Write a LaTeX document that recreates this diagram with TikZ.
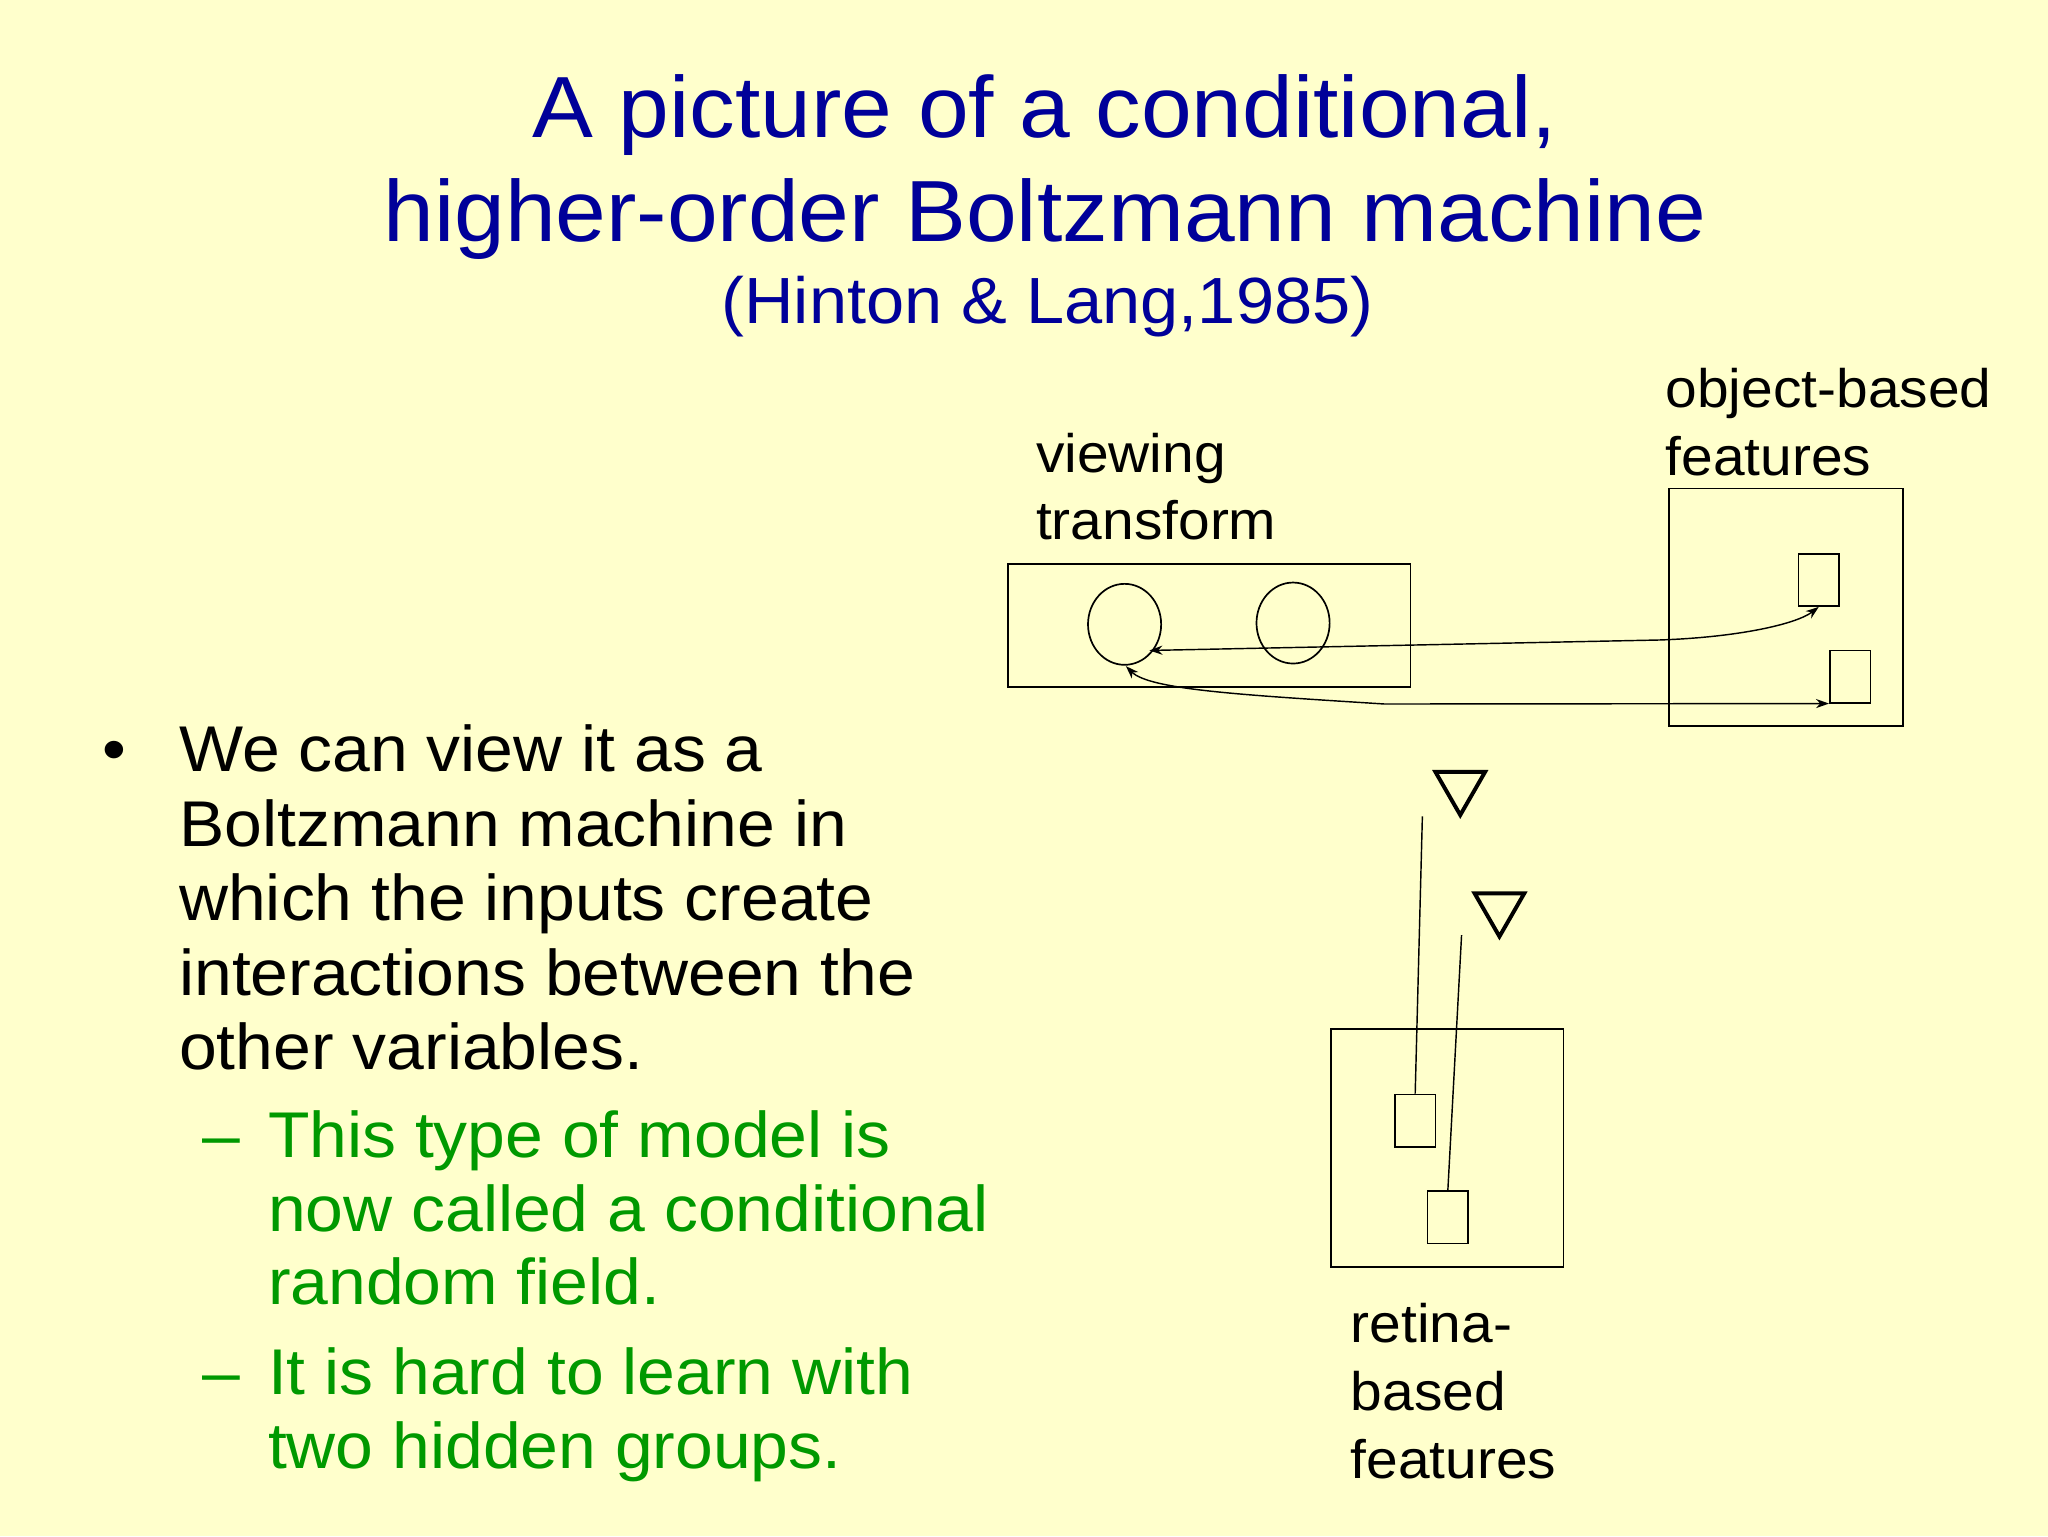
\documentclass[tikz,border=0pt]{standalone}
\usepackage{fontspec}
\setmainfont[FakeStretch=1.05]{Liberation Sans}
\usetikzlibrary{arrows.meta}
\definecolor{bg}{RGB}{255,255,204}
\definecolor{ttl}{RGB}{0,0,153}
\definecolor{grn}{RGB}{0,153,0}
\tikzset{
  txt/.style={anchor=base west,inner sep=0pt,font=\fontsize{49.5}{57}\selectfont},
  lbl/.style={anchor=base west,inner sep=0pt,font=\fontsize{41.5}{48}\selectfont},
  box/.style={draw,line width=1.3pt},
  conn/.style={line width=1.1pt,{Stealth[length=10pt,width=7pt]}-{Stealth[length=10pt,width=7pt]}},
  tri/.style={draw,line width=3pt}
}
\begin{document}
\begin{tikzpicture}[x=1pt,y=-1pt]
\fill[bg] (0,0) rectangle (1568,1176);
\useasboundingbox (0,0) rectangle (1568,1176);
% title
\node[anchor=base,inner sep=0pt,text=ttl,font=\fontsize{66.5}{78}\selectfont] (t1) at (800,105) {A picture of a conditional,};
\node[anchor=base,inner sep=0pt,text=ttl,font=\fontsize{66.5}{78}\selectfont] (t2) at (800,185) {higher-order Boltzmann machine};
\node[anchor=base,inner sep=0pt,text=ttl,font=\fontsize{50}{58}\selectfont] (t3) at (802,248) {(Hinton \& Lang,1985)};
% bullets
\node[txt] (b) at (78,591) {•};
\foreach \t [count=\i from 0] in {We can view it as a,Boltzmann machine in,which the inputs create,interactions between the,other variables.}
  \node[txt] (l\i) at (137,591+57*\i) {\t};
\node[txt,text=grn] (d1) at (155,886) {–};
\foreach \t [count=\i from 0] in {This type of model is,now called a conditional,random field.}
  \node[txt,text=grn] (g\i) at (205,886+56.5*\i) {\t};
\node[txt,text=grn] (d2) at (155,1068) {–};
\foreach \t [count=\i from 0] in {It is hard to learn with,two hidden groups.}
  \node[txt,text=grn] (h\i) at (205,1068+56*\i) {\t};
% labels
\node[lbl] (v1) at (793,362) {viewing};
\node[lbl] (v2) at (793,413) {transform};
\node[lbl] (o1) at (1275,312) {object-based};
\node[lbl] (o2) at (1275,364) {features};
\node[lbl] (r1) at (1034,1028) {retina-};
\node[lbl] (r2) at (1034,1080) {based};
\node[lbl] (r3) at (1034,1132) {features};
% boxes
\draw[box] (772,432) rectangle (1080,526);
\draw[box] (1278,374) rectangle (1457,556);
\draw[box] (1019,788) rectangle (1197,970);
\draw[box] (861,478) ellipse (28 and 31);
\draw[box] (990,477) ellipse (28 and 31);
\node[box,minimum width=31pt,minimum height=40pt,inner sep=0pt] (os1) at (1392.5,444) {};
\node[box,minimum width=31pt,minimum height=40pt,inner sep=0pt] (os2) at (1416.5,518) {};
\node[box,minimum width=31pt,minimum height=40pt,inner sep=0pt] (rs1) at (1083.5,858) {};
\node[box,minimum width=31pt,minimum height=40pt,inner sep=0pt] (rs2) at (1108.5,932) {};
\coordinate (c1) at (880,498);
\coordinate (c2) at (862,510);
% connectors
\draw[conn] (c1) -- (1270,490) .. controls (1330,488) and (1375,478) .. (os1.south);
\draw[conn] (c2) .. controls (880,528) and (950,532) .. (1060,539) -- (os2.south west);
% triangles and lines
\draw[tri] (1099,591) -- (1137,591) -- (1118,624) -- cycle;
\draw[tri] (1129,684) -- (1167,684) -- (1148,717) -- cycle;
\coordinate (p1) at (1089,625);
\coordinate (p2) at (1119,716);
\draw[line width=1.1pt] (p1) -- (rs1.north);
\draw[line width=1.1pt] (p2) -- (rs2.north);
\end{tikzpicture}
\end{document}
